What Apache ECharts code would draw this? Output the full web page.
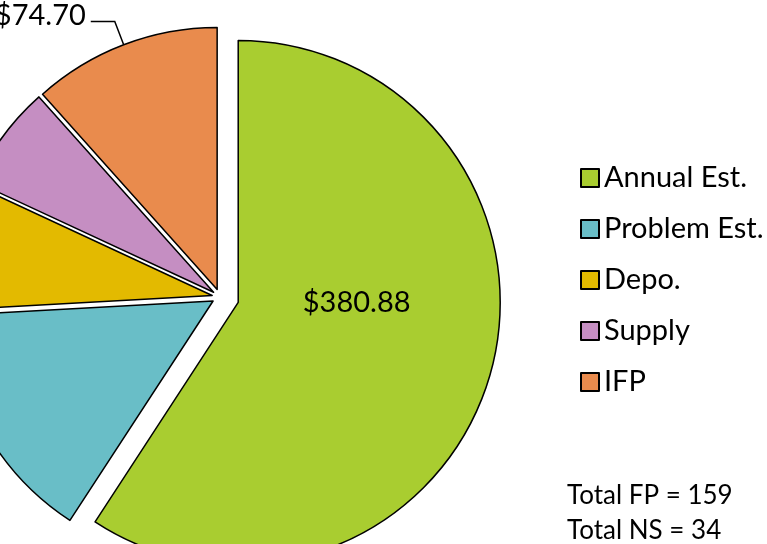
<!DOCTYPE html>
<html>
<head>
<meta charset="utf-8">
<title>Pie</title>
<script src="https://cdn.jsdelivr.net/npm/echarts@6/dist/echarts.min.js"></script>
<style>
  html, body { margin: 0; padding: 0; background: #fff; }
  #chart { width: 767px; height: 544px; }
</style>
</head>
<body>
<div id="chart"></div>
<script>
// categories and values
const categories = ["Annual Est.", "Problem Est.", "Depo.", "Supply", "IFP"];
const values = [380.88, 96.0, 50.2, 41.6, 74.70];
const colors = ["#A9CD30", "#69BEC7", "#E3BA00", "#C58EC2", "#E98B4D"];
// how far each slice is pulled away from the centre
const explode = [19, 8, 8, 8, 8];
// which slices carry a visible value label
const labelShown = [true, false, false, false, true];
const totalsText = ["Total FP = 159", "Total NS = 34"];

const FONT = "Lato, 'Open Sans', sans-serif";
const BORDER = { borderColor: "#000", borderWidth: 1.5 };

const chart = echarts.init(document.getElementById("chart"));

// one pie series per slice, so every slice can have its own explode offset
function sliceSeries(k) {
  const data = categories.map((name, i) => {
    if (i !== k) {
      return {
        name: name,
        value: values[i],
        itemStyle: { color: "transparent", borderWidth: 0 },
        label: { show: false },
        labelLine: { show: false },
      };
    }
    const item = {
      name: name,
      value: values[i],
      selected: true,
      itemStyle: Object.assign({ color: colors[i] }, BORDER),
      label: { show: labelShown[i] },
      labelLine: { show: false },
    };
    if (i === 0) {
      // label sits inside the big slice, a bit above its middle
      item.label.position = "inside";
      item.label.formatter = (p) => "{v|$" + p.value.toFixed(2) + "}{w|}\n{h|}";
    } else if (labelShown[i]) {
      item.label.position = "outside";
      item.label.formatter = (p) => "{v|$" + p.value.toFixed(2) + "}\n{s|}";
      item.labelLine.show = true;
    }
    return item;
  });
  return {
    type: "pie",
    center: [220, 297],
    radius: [0, 262],
    startAngle: 90,
    clockwise: true,
    selectedMode: "multiple",
    selectedOffset: explode[k],
    avoidLabelOverlap: false,
    silent: true,
    emphasis: { disabled: true },
    label: {
      color: "#000",
      rich: {
        v: { fontFamily: FONT, fontSize: 29, color: "#000", lineHeight: 30 },
        w: { width: 20, height: 1 },
        h: { height: 76 },
        s: { height: 12 },
      },
    },
    labelLine: {
      length: 25,
      length2: 24,
      lineStyle: { color: "#000", width: 1.5 },
    },
    data: data,
  };
}

const option = {
  animation: false,
  textStyle: { fontFamily: FONT },
  legend: {
    orient: "vertical",
    left: 575,
    top: 158,
    itemWidth: 18,
    itemHeight: 18,
    itemGap: 21,
    icon: "rect",
    selectedMode: false,
    textStyle: { fontFamily: FONT, fontSize: 29, color: "#000", lineHeight: 30 },
    data: categories.map((name, i) => ({
      name: name,
      itemStyle: Object.assign({ color: colors[i] }, BORDER, { borderWidth: 2 }),
    })),
  },
  graphic: [
    {
      type: "text",
      left: 567,
      top: 478,
      style: {
        text: totalsText.join("\n"),
        font: "26px " + FONT,
        fill: "#000",
        lineHeight: 35,
      },
    },
  ],
  series: categories.map((_, k) => sliceSeries(k)),
};

chart.setOption(option);
</script>
</body>
</html>
